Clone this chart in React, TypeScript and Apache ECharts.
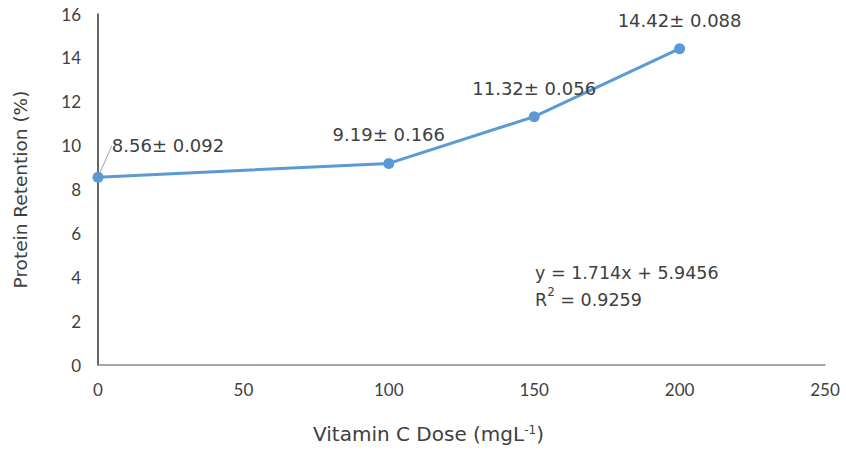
import React, { useEffect, useRef } from "react";
import * as echarts from "echarts";

const doses = [0, 100, 150, 200];
const retention = [8.56, 9.19, 11.32, 14.42];
const errors = ["0.092", "0.166", "0.056", "0.088"];
const equationLines = ["y = 1.714x + 5.9456", "R{sup|2} = 0.9259"];

const TICK_FONT = "'Lato', 'Open Sans', sans-serif";
const FONT = "'DejaVu Sans', 'Open Sans', sans-serif";
const TEXT = "#404040";

export default function App() {
  const ref = useRef<HTMLDivElement>(null);
  useEffect(() => {
    if (!ref.current) return;
    const chart = echarts.init(ref.current, undefined, { renderer: "svg" });
    chart.setOption({
      animation: false,
      textStyle: { fontFamily: FONT },
      grid: { left: 98, right: 21, top: 14, bottom: 88 },
      xAxis: {
        type: "value",
        min: 0,
        max: 250,
        interval: 50,
        name: "Vitamin C Dose (mgL{sup|-1})",
        nameLocation: "middle",
        nameGap: 59,
        nameTextStyle: {
          fontFamily: FONT,
          fontSize: 20,
          color: TEXT,
          padding: [0, 66, 0, 0],
          rich: { sup: { fontSize: 12, verticalAlign: "top", padding: [0, 0, 8, 0], color: TEXT, fontFamily: FONT } },
        },
        axisLine: { show: true, lineStyle: { color: "#888888", width: 1.5 } },
        axisTick: { show: false },
        splitLine: { show: false },
        axisLabel: { fontFamily: TICK_FONT, fontSize: 17, color: TEXT, margin: 16 },
      },
      yAxis: {
        type: "value",
        min: 0,
        max: 16,
        interval: 2,
        name: "Protein Retention (%)",
        nameLocation: "middle",
        nameGap: 68,
        nameTextStyle: { fontFamily: FONT, fontSize: 18.5, color: TEXT },
        axisLine: { show: true, lineStyle: { color: "#333333", width: 1.5 } },
        axisTick: { show: false },
        splitLine: { show: false },
        axisLabel: { fontFamily: TICK_FONT, fontSize: 17, color: TEXT, margin: 17 },
      },
      graphic: [
        {
          type: "text",
          left: 535,
          top: 259,
          style: {
            text: equationLines.join("\n"),
            fontFamily: FONT,
            fontSize: 17.5,
            lineHeight: 27,
            fill: TEXT,
            rich: {
              sup: { fontSize: 12, verticalAlign: "top", fill: TEXT, fontFamily: FONT },
            },
          },
        },
      ],
      series: [
        {
          type: "line",
          data: doses.map((d, i) =>
            i === 0
              ? { value: [d, retention[i]], labelLine: { show: true } }
              : { value: [d, retention[i]] }
          ),
          symbol: "circle",
          symbolSize: 11,
          lineStyle: { color: "#5B9BD5", width: 3 },
          itemStyle: { color: "#5B9BD5" },
          label: {
            show: true,
            position: "top",
            distance: 14,
            fontFamily: FONT,
            fontSize: 18,
            color: TEXT,
            formatter: (p: any) => `${retention[p.dataIndex].toFixed(2)}\u00b1 ${errors[p.dataIndex]}`,
          },
          labelLine: { show: false, lineStyle: { color: "#A6A6A6", width: 1 } },
          labelLayout: (p: any) =>
            p.dataIndex === 0 ? { dx: 70, dy: -3 } : {},
        },
      ],
    });
    return () => chart.dispose();
  }, []);
  return (
    <div
      ref={ref}
      style={{ position: "absolute", left: 0, top: 0, width: 846, height: 453 }}
    />
  );
}
